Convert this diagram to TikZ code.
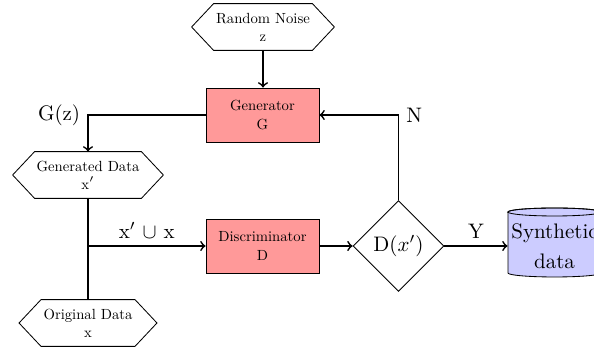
\documentclass[tikz,border=0pt]{standalone}
\usepackage{fontspec}
\newfontfamily\boxfont{lmroman10-regular.otf}
\usetikzlibrary{shapes.geometric,backgrounds,calc}
\begin{document}
\begin{tikzpicture}[x=0.4763pt,y=-0.4763pt,
  smalltext/.style={font=\boxfont\fontsize{7}{8.6}\selectfont},
  hexbox/.style={rectangle, minimum height=21.9pt, inner sep=0pt, align=center, smalltext},
  procbox/.style={rectangle, draw, fill=red!40, minimum width=53.8pt,
    minimum height=25.7pt, align=center, smalltext},
  decision/.style={diamond, draw, minimum width=43.3pt, minimum height=43.3pt, inner sep=0pt},
  store/.style={rectangle, minimum width=44.3pt, inner sep=0pt, align=center,
    font=\fontsize{10}{14.3}\selectfont},
  flow/.style={thick,->},
  link/.style={thick},
]
\useasboundingbox (0,0) rectangle (594,350);
\clip (0,0) rectangle (594,350);

% process nodes
\node[hexbox, minimum width=67.6pt] (noise) at (263,27) {Random Noise\\z};
\node[procbox] (gen) at (262.5,115) {Generator\\G};
\node[hexbox, minimum width=71.4pt] (gdata) at (88,175) {Generated Data\\x$'$};
\node[procbox] (disc) at (262.5,246) {Discriminator\\D};
\node[hexbox, minimum width=65.3pt] (odata) at (88,323) {Original Data\\x};
\node[decision] (dec) at (398.5,246) {D$(x')$};
\node[store] (syn) at (554.5,246) {Synthetic\\data};

\begin{scope}[on background layer]
  % hexagonal outlines of the data nodes
  \foreach \n in {noise,gdata,odata}
    \draw (\n.west) -- ($(\n.north west)+(22,0)$) -- ($(\n.north east)+(-22,0)$)
      -- (\n.east) -- ($(\n.south east)+(-22,0)$) -- ($(\n.south west)+(22,0)$) -- cycle;
  % database cylinder behind the output node
  \draw[fill=blue!20]
    ($(syn.center)+(-46.5,-34)$) -- ($(syn.center)+(-46.5,27)$)
    arc[start angle=180, end angle=360, x radius=22.15pt, y radius=1.9pt]
    -- ($(syn.center)+(46.5,-34)$)
    arc[start angle=0, end angle=180, x radius=22.15pt, y radius=1.9pt] -- cycle;
  \draw ($(syn.center)+(0,-34)$) ellipse[x radius=22.15pt, y radius=1.9pt];
\end{scope}

% connectors
\draw[flow] (noise.south) -- (noise.south |- gen.north);
\draw[flow] (gen.west) -| (gdata.north) node[pos=0.5, left] {G(z)};
\draw[link] (gdata.south) -- (odata.north);
\coordinate (split) at (gdata.south |- disc.west);
\draw[flow] (split) -- (disc.west) node[midway, above] {x$'$ $\cup$ x};
\draw[flow] (disc.east) -- (dec.west);
\draw[flow] (dec.north) |- (gen.east) node[pos=0.5, right] {N};
\draw[flow] (dec.east) -- (syn.west) node[midway, above] {Y};
\end{tikzpicture}
\end{document}
